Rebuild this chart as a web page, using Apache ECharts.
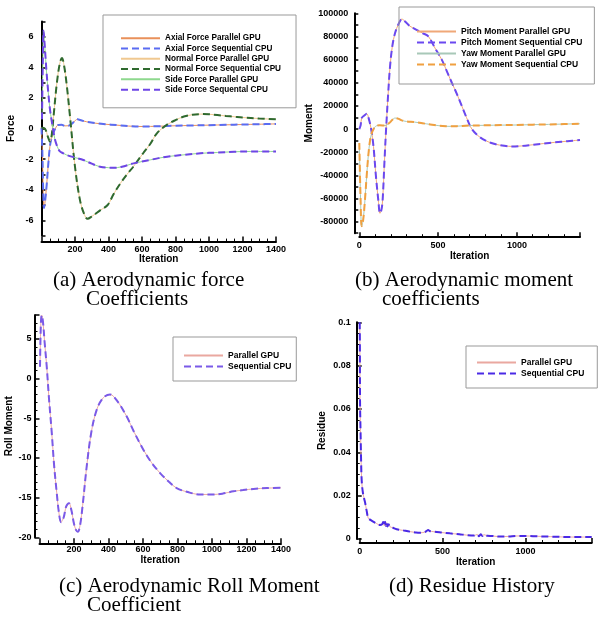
<!DOCTYPE html>
<html>
<head>
<meta charset="utf-8" />
<title>Aerodynamic coefficients</title>
<script src="https://cdn.jsdelivr.net/npm/echarts@6/dist/echarts.min.js"></script>
<style>
  html, body { margin: 0; padding: 0; background: #fff; }
  #main { width: 598px; height: 617px; }
</style>
</head>
<body>
<div id="main"></div>
<script type="text/javascript">
// (a) force coefficients
var normalIter = [0, 20, 40, 50, 60, 72, 92, 110, 122, 135, 150, 170, 200, 230, 255, 275, 300, 350, 395, 430, 470, 510, 548, 608, 650, 690, 750, 800, 850, 900, 950, 1000, 1050, 1100, 1150, 1200, 1300, 1400];
var normalForce = [0.05, 0.0, -0.6, -0.85, -0.5, 0.8, 3.0, 4.3, 4.6, 4.1, 2.9, 0.8, -2.5, -4.7, -5.6, -5.9, -5.75, -5.35, -5.0, -4.3, -3.6, -3.0, -2.5, -1.6, -1.0, -0.3, 0.25, 0.55, 0.78, 0.9, 0.94, 0.93, 0.88, 0.82, 0.77, 0.72, 0.65, 0.6];
var sideIter = [3, 8, 12, 20, 30, 40, 50, 60, 70, 80, 95, 110, 130, 150, 200, 250, 300, 350, 400, 430, 480, 550, 650, 750, 850, 950, 1050, 1150, 1250, 1400];
var sideForce = [0.6, 4.5, 6.4, 5.3, 3.7, 2.4, 1.3, 0.55, -0.1, -0.7, -1.2, -1.5, -1.62, -1.73, -1.9, -2.06, -2.3, -2.5, -2.56, -2.57, -2.5, -2.28, -2.05, -1.84, -1.72, -1.62, -1.57, -1.52, -1.5, -1.5];
var axialIter = [0, 5, 10, 15, 20, 30, 40, 50, 60, 70, 85, 100, 120, 140, 160, 180, 200, 214, 240, 270, 320, 380, 450, 520, 600, 700, 800, 900, 1000, 1100, 1200, 1300, 1400];
var axialForce = [0.05, -1.5, -4.0, -5.2, -4.9, -3.8, -2.4, -1.2, -0.6, -0.3, 0.05, 0.23, 0.24, 0.17, 0.18, 0.3, 0.5, 0.6, 0.52, 0.44, 0.35, 0.28, 0.22, 0.16, 0.13, 0.15, 0.18, 0.2, 0.22, 0.24, 0.26, 0.28, 0.3];

// (b) moment coefficients
var pitchIter = [0, 8, 15, 30, 47, 60, 75, 90, 105, 121, 131, 140, 148, 160, 170, 182, 195, 210, 227, 250, 270, 290, 320, 360, 400, 438, 480, 523, 555, 587, 620, 650, 680, 714, 760, 809, 860, 920, 970, 1030, 1100, 1170, 1240, 1320, 1400];
var pitchMoment = [0, 3000, 9500, 11500, 13200, 9000, 0, -15000, -40000, -62000, -72800, -70000, -61300, -27000, 0, 28000, 54000, 72000, 83000, 91000, 95000, 93000, 89000, 86000, 83000, 80000, 70000, 60000, 50000, 40000, 30000, 20000, 10000, 0, -6500, -10500, -13000, -14500, -15000, -14600, -13600, -12500, -11500, -10500, -9500];
var yawIter = [0, 8, 15, 25, 36, 47, 57, 68, 79, 95, 110, 130, 163, 190, 210, 227, 250, 269, 300, 350, 400, 450, 500, 550, 576, 620, 700, 800, 900, 1000, 1100, 1200, 1300, 1400];
var yawMoment = [-12000, -60000, -84000, -78000, -61000, -40000, -23000, -10000, -3500, 1000, 2900, 3200, 3000, 5200, 8000, 9500, 8800, 7500, 6500, 6000, 5000, 4000, 3000, 2400, 2300, 2500, 3000, 3200, 3400, 3500, 3800, 4000, 4300, 4600];

// (c) roll moment
var rollIter = [3, 8, 13, 20, 30, 42, 55, 71, 85, 100, 112, 125, 140, 155, 171, 185, 200, 212, 222, 235, 250, 274, 300, 332, 370, 409, 450, 505, 550, 602, 650, 699, 750, 795, 860, 930, 1000, 1060, 1124, 1180, 1240, 1320, 1400];
var rollMoment = [1.5, 7.0, 8.0, 7.2, 4.5, 1.5, -2.5, -6.8, -11, -14.4, -16.8, -18.1, -17.5, -16.1, -15.7, -16.6, -18.3, -19.1, -19.3, -18.5, -16.0, -11.0, -6.8, -3.9, -2.4, -2.0, -2.8, -4.75, -6.8, -8.95, -10.6, -11.9, -13.0, -13.8, -14.3, -14.6, -14.6, -14.5, -14.2, -14.05, -13.9, -13.8, -13.75];

// (d) residue
var resIter = [0, 1, 2, 5, 8, 12, 20, 32, 42, 52, 65, 82, 100, 122, 135, 142, 148, 153, 158, 163, 168, 175, 182, 200, 223, 260, 303, 340, 363, 390, 405, 413, 422, 443, 490, 544, 600, 645, 690, 710, 720, 730, 740, 750, 770, 800, 845, 900, 950, 1000, 1046, 1100, 1150, 1200, 1245, 1300, 1350, 1400];
var residue = [0.1, 0.09, 0.064, 0.05, 0.038, 0.027, 0.021, 0.017, 0.013, 0.0095, 0.0088, 0.008, 0.0072, 0.0065, 0.0068, 0.0078, 0.0062, 0.008, 0.006, 0.0075, 0.0058, 0.0068, 0.0057, 0.0052, 0.0045, 0.004, 0.0034, 0.003, 0.0029, 0.0031, 0.0038, 0.0042, 0.0037, 0.0034, 0.003, 0.0026, 0.0022, 0.0018, 0.0016, 0.0021, 0.0013, 0.0022, 0.0014, 0.002, 0.0015, 0.0014, 0.0011, 0.0012, 0.0014, 0.0014, 0.0013, 0.0012, 0.0011, 0.001, 0.0009, 0.0009, 0.0009, 0.0009];

// tick labels
var forceTicks = [-6, -4, -2, 0, 2, 4, 6];
var momentTicks = [-80000, -60000, -40000, -20000, 0, 20000, 40000, 60000, 80000, 100000];
var iterTicks500 = [0, 500, 1000];

function zip(xs, ys) {
    var out = [];
    for (var i = 0; i < xs.length; i++) out.push([xs[i], ys[i]]);
    return out;
}

var sans = 'Liberation Sans';
var dash = [7, 4];
var plain = function (v) { return String(+v.toFixed(4)); };

function lbl(o) {
    return Object.assign({color: '#000', fontFamily: sans, fontWeight: 'bold', fontSize: 9, formatter: plain}, o);
}
function xAx(grid, o) {
    return Object.assign({
        type: 'value', gridIndex: grid, min: 0, max: 1400,
        name: 'Iteration', nameLocation: 'middle',
        nameTextStyle: {color: '#000', fontFamily: sans, fontWeight: 'bold', fontSize: 10},
        axisLine: {onZero: false, lineStyle: {color: '#000', width: 2}},
        axisTick: {inside: true, length: 5, lineStyle: {color: '#000', width: 1.5}},
        minorTick: {show: true, splitNumber: 4, length: 3, lineStyle: {color: '#000'}},
        splitLine: {show: false}
    }, o);
}
function yAx(grid, o) {
    return Object.assign({
        type: 'value', gridIndex: grid, nameLocation: 'middle', nameRotate: 90,
        nameTextStyle: {color: '#000', fontFamily: sans, fontWeight: 'bold', fontSize: 10},
        axisLine: {onZero: false, lineStyle: {color: '#000', width: 2}},
        axisTick: {inside: true, length: 5, lineStyle: {color: '#000', width: 1.5}},
        splitLine: {show: false}
    }, o);
}
function line(name, idx, data, color, dashed) {
    return {
        name: name, type: 'line', xAxisIndex: idx, yAxisIndex: idx,
        data: data, symbol: 'none', smooth: 0.35,
        lineStyle: {color: color, width: dashed ? 2 : 1, type: dashed ? dash : 'solid'},
        itemStyle: {color: color},
        emphasis: {disabled: true}, animation: false
    };
}
function legend(names, left, top, size, pad) {
    return {
        data: names, orient: 'vertical', left: left, top: top,
        padding: pad, borderColor: '#999', borderWidth: 1,
        itemWidth: 39, itemHeight: 8, itemGap: 2,
        itemStyle: {opacity: 0, borderWidth: 0},
        formatter: function (n) { return n.trim(); },
        textStyle: {color: '#000', fontFamily: sans, fontWeight: 'bold', fontSize: size, lineHeight: 8.3},
        selectedMode: false
    };
}

var serif = '21px "Liberation Serif"';
function cap(text, x, y) {
    return {type: 'text', x: x, y: y, style: {text: text, font: serif, fill: '#000', verticalAlign: 'middle'}};
}

var option = {
    backgroundColor: '#fff',
    animation: false,
    grid: [
        {left: 41.5, top: 21.4, width: 234.5, height: 214.2},
        {left: 359.3, top: 13.3, width: 220.7, height: 219.9},
        {left: 39.5, top: 315.2, width: 241.5, height: 222.1},
        {left: 359.7, top: 322.3, width: 232, height: 216.7}
    ],
    xAxis: [
        xAx(0, {interval: 200, offset: 6, nameGap: 9, axisLabel: lbl({margin: 3, showMinLabel: false})}),
        xAx(1, {interval: 500, offset: 4, nameGap: 12.5, minorTick: {show: true, splitNumber: 5, length: 3, lineStyle: {color: '#000'}},
            axisLabel: lbl({margin: 4, customValues: iterTicks500})}),
        xAx(2, {interval: 200, offset: 6, nameGap: 9.5, axisLabel: lbl({margin: 2, showMinLabel: false})}),
        xAx(3, {interval: 500, offset: 4, nameGap: 12.5, minorTick: {show: true, splitNumber: 5, length: 3, lineStyle: {color: '#000'}},
            axisLabel: lbl({margin: 4, customValues: iterTicks500})})
    ],
    yAxis: [
        yAx(0, {min: -7, max: 7, interval: 1, name: 'Force', nameGap: 25,
            axisTick: {inside: true, length: 4, lineStyle: {color: '#000', width: 1.5}},
            axisLabel: lbl({margin: 8, customValues: forceTicks})}),
        yAx(1, {min: -90000, max: 100000, interval: 10000, name: 'Moment', offset: 5, nameGap: 40,
            axisTick: {inside: true, length: 4, lineStyle: {color: '#000', width: 1.5}},
            axisLabel: lbl({margin: 6, customValues: momentTicks})}),
        yAx(2, {min: -20, max: 8, interval: 5, name: 'Roll Moment', offset: 5, nameGap: 20,
            minorTick: {show: true, splitNumber: 5, length: 3, lineStyle: {color: '#000'}},
            axisLabel: lbl({margin: 3, showMaxLabel: false})}),
        yAx(3, {min: 0, max: 0.1, interval: 0.02, name: 'Residue', offset: 3, nameGap: 29,
            minorTick: {show: true, splitNumber: 4, length: 3, lineStyle: {color: '#000'}},
            axisLabel: lbl({margin: 6})})
    ],
    legend: [
        legend(['Axial Force Parallel GPU', 'Axial Force Sequential CPU', 'Normal Force Parallel GPU',
            'Normal Force Sequential CPU', 'Side Force Parallel GPU', 'Side Force Sequental CPU'], 103, 15, 8.2, [19, 15, 14, 17]),
        legend(['Pitch Moment Parallel GPU', 'Pitch Moment Sequential CPU', 'Yaw Moment Parallel GPU',
            'Yaw Moment Sequential CPU'], 399, 7, 8.5, [20, 12, 15, 17]),
        legend(['Parallel GPU', 'Sequential CPU'], 173, 337, 8.5, [14, 5, 10, 10]),
        legend(['Parallel GPU ', 'Sequential CPU '], 466, 346, 8.5, [12, 13, 10, 10])
    ],
    graphic: [
        cap('(a) Aerodynamic force', 53, 280),
        cap('Coefficients', 86, 299),
        cap('(b) Aerodynamic moment', 355, 280),
        cap('coefficients', 382, 299),
        cap('(c) Aerodynamic Roll Moment', 59, 586),
        cap('Coefficient', 87, 605),
        cap('(d) Residue History', 389, 586)
    ],
    series: [
        line('Axial Force Parallel GPU', 0, zip(axialIter, axialForce), '#e9905a', false),
        line('Axial Force Sequential CPU', 0, zip(axialIter, axialForce), '#5a6cf2', true),
        line('Normal Force Parallel GPU', 0, zip(normalIter, normalForce), '#f0c890', false),
        line('Normal Force Sequential CPU', 0, zip(normalIter, normalForce), '#2f6a2f', true),
        line('Side Force Parallel GPU', 0, zip(sideIter, sideForce), '#8ed88e', false),
        line('Side Force Sequental CPU', 0, zip(sideIter, sideForce), '#6e45e6', true),

        line('Pitch Moment Parallel GPU', 1, zip(pitchIter, pitchMoment), '#f0a878', false),
        line('Pitch Moment Sequential CPU', 1, zip(pitchIter, pitchMoment), '#6a48f0', true),
        line('Yaw Moment Parallel GPU', 1, zip(yawIter, yawMoment), '#a8c8b8', false),
        line('Yaw Moment Sequential CPU', 1, zip(yawIter, yawMoment), '#f0a040', true),

        line('Parallel GPU', 2, zip(rollIter, rollMoment), '#eaa8a0', false),
        line('Sequential CPU', 2, zip(rollIter, rollMoment), '#7a5ae8', true),

        line('Parallel GPU ', 3, zip(resIter, residue), '#eaa8a0', false),
        line('Sequential CPU ', 3, zip(resIter, residue), '#4a2ae6', true)
    ]
};

var myChart = echarts.init(document.getElementById('main'));
myChart.setOption(option);
</script>
</body>
</html>
